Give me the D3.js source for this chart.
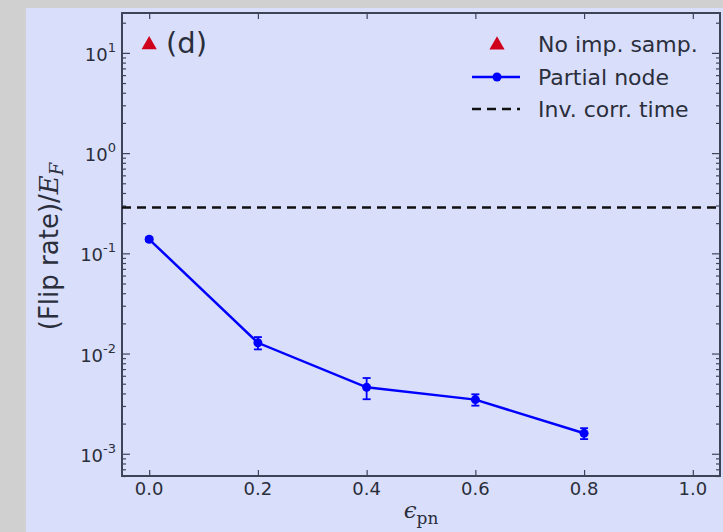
<!DOCTYPE html>
<html><head><meta charset="utf-8">
<script src="https://cdn.jsdelivr.net/npm/d3@7"></script>
<style>
html,body{margin:0;padding:0;background:#cfcfcf;}
svg{display:block;}
</style></head>
<body>
<svg id="chart" width="723" height="532"></svg>
<script>
// ---- data ----
const epsPn = [0.0, 0.2, 0.4, 0.6, 0.8];
const partialNode = [0.138, 0.0128, 0.0046, 0.00347, 0.0016];
const partialNodeErr = [0.006, 0.0018, 0.0011, 0.00045, 0.0002];
const noImpX = [0.0];
const noImpY = [12.3];
const invCorrTime = 0.286;
const xTicks = [0.0, 0.2, 0.4, 0.6, 0.8, 1.0];
const yTickExp = [1, 0, -1, -2, -3];
const legendLabels = ["No imp. samp.", "Partial node", "Inv. corr. time"];

const W = 723, H = 532;
const L = 122, T = 13, R = 720, B = 476;
const svg = d3.select("#chart");

// background
const defs = svg.append("defs");
const f = defs.append("filter").attr("id","noise").attr("x",0).attr("y",0).attr("width","100%").attr("height","100%");
f.append("feTurbulence").attr("type","fractalNoise").attr("baseFrequency",0.9).attr("numOctaves",2).attr("seed",3);
f.append("feColorMatrix").attr("type","matrix").attr("values","0 0 0 0 0.5  0 0 0 0 0.5  0 0 0 0 0.5  0 0 0 0.25 0");
svg.append("rect").attr("width",W).attr("height",H).attr("fill","#d2d2d2");
svg.append("rect").attr("width",W).attr("height",H).attr("filter","url(#noise)").attr("opacity",0.6);
svg.append("rect").attr("x",26).attr("y",8).attr("width",W-26).attr("height",H-8).attr("fill","#d9dffb");

const x = d3.scaleLinear().domain([-0.05, 1.05]).range([L, R]);
const y = d3.scaleLog().domain([6e-4, 25]).range([B, T]);

const axisColor = "#3e4458";
const textColor = "#2b2e3b";
const g = svg.append("g");

// minor / major y ticks (inward, both sides)
const minorVals = [];
for (let e = -4; e <= 1; e++) for (let m = 2; m <= 9; m++) {
  const v = m * Math.pow(10, e);
  if (v >= 6e-4 && v <= 25) minorVals.push(v);
}
const yLeft = d3.axisRight(y).tickValues(minorVals).tickSize(4).tickFormat("");
const yLeftMaj = d3.axisRight(y).tickValues(yTickExp.map(e => Math.pow(10, e))).tickSize(8).tickFormat("");
const yRight = d3.axisLeft(y).tickValues(minorVals).tickSize(4).tickFormat("");
const yRightMaj = d3.axisLeft(y).tickValues(yTickExp.map(e => Math.pow(10, e))).tickSize(8).tickFormat("");
const xBot = d3.axisTop(x).tickValues(xTicks).tickSize(6).tickFormat("");
const xTop = d3.axisBottom(x).tickValues(xTicks).tickSize(6).tickFormat("");

function styleAxis(sel){
  sel.select(".domain").remove();
  sel.selectAll("line").attr("stroke", axisColor).attr("stroke-width", 1.2);
}
g.append("g").attr("transform",`translate(${L},0)`).call(yLeft).call(styleAxis);
g.append("g").attr("transform",`translate(${L},0)`).call(yLeftMaj).call(styleAxis);
g.append("g").attr("transform",`translate(${R},0)`).call(yRight).call(styleAxis);
g.append("g").attr("transform",`translate(${R},0)`).call(yRightMaj).call(styleAxis);
g.append("g").attr("transform",`translate(0,${B})`).call(xBot).call(styleAxis);
g.append("g").attr("transform",`translate(0,${T})`).call(xTop).call(styleAxis);

// frame
g.append("rect").attr("x",L).attr("y",T).attr("width",R-L).attr("height",B-T)
  .attr("fill","none").attr("stroke",axisColor).attr("stroke-width",2);

// y tick labels
const font = "DejaVu Sans, Verdana, sans-serif";
yTickExp.forEach(e => {
  const t = g.append("text").attr("x", L - 6).attr("y", y(Math.pow(10, e)) + 8)
    .attr("text-anchor","end").attr("font-family",font).attr("font-size",18).attr("fill",textColor);
  t.append("tspan").text("10");
  t.append("tspan").attr("font-size",13).attr("dy",-9).text(e < 0 ? "-" + (-e) : String(e));
});
// x tick labels
xTicks.forEach(v => {
  g.append("text").attr("x", x(v)).attr("y", B + 19).attr("text-anchor","middle")
    .attr("font-family",font).attr("font-size",18).attr("fill",textColor).text(v.toFixed(1));
});

// axis labels
const yl = g.append("text").attr("transform",`translate(58,${(T+B)/2 + 2}) rotate(-90)`)
  .attr("text-anchor","middle").attr("font-family",font).attr("font-size",26).attr("fill",textColor);
yl.append("tspan").text("(Flip rate)/");
yl.append("tspan").attr("font-family","DejaVu Serif, serif").attr("font-style","italic").text("E");
yl.append("tspan").attr("font-family","DejaVu Serif, serif").attr("font-style","italic").attr("font-size",18).attr("dy",5).text("F");

const xl = g.append("text").attr("x", 421).attr("y", 518).attr("text-anchor","middle")
  .attr("font-family","DejaVu Serif, serif").attr("font-size",23).attr("fill",textColor);
xl.append("tspan").attr("font-style","italic").text("ϵ");
xl.append("tspan").attr("font-size",17).attr("dy",6).text("pn");

// dashed inv corr time line
g.append("line").attr("x1",L).attr("x2",R).attr("y1",y(invCorrTime)).attr("y2",y(invCorrTime))
  .attr("stroke","#111").attr("stroke-width",2.5).attr("stroke-dasharray","9,6");

// partial node series
const blue = "#0000ff";
const pts = epsPn.map((e,i) => ({x:e, y:partialNode[i], err:partialNodeErr[i]}));
g.append("path").datum(pts).attr("fill","none").attr("stroke",blue).attr("stroke-width",2.5)
  .attr("d", d3.line().x(d => x(d.x)).y(d => y(d.y)));
const eb = g.append("g").attr("stroke",blue).attr("stroke-width",1.8);
pts.forEach(d => {
  const y1 = y(d.y + d.err), y2 = y(d.y - d.err), cx = x(d.x);
  eb.append("line").attr("x1",cx).attr("x2",cx).attr("y1",y1).attr("y2",y2);
  eb.append("line").attr("x1",cx-4).attr("x2",cx+4).attr("y1",y1).attr("y2",y1);
  eb.append("line").attr("x1",cx-4).attr("x2",cx+4).attr("y1",y2).attr("y2",y2);
});
g.selectAll("circle.pn").data(pts).enter().append("circle").attr("class","pn")
  .attr("cx", d => x(d.x)).attr("cy", d => y(d.y)).attr("r",4.5).attr("fill",blue);

// no imp samp triangle
const red = "#d0021b";
const tri = d3.symbol().type(d3.symbolTriangle).size(100);
noImpX.forEach((v,i) => {
  g.append("path").attr("d",tri()).attr("transform",`translate(${x(v)},${y(noImpY[i])+1})`).attr("fill",red);
});
g.append("text").attr("x",166).attr("y",53).attr("font-family",font).attr("font-size",29)
  .attr("fill",textColor).text("(d)");

// legend
const lgX = 497, lgY = [44, 77, 109], lgText = 538;
g.append("path").attr("d",tri()).attr("transform",`translate(${lgX},${lgY[0]+1})`).attr("fill",red);
g.append("line").attr("x1",472).attr("x2",520).attr("y1",lgY[1]).attr("y2",lgY[1])
  .attr("stroke",blue).attr("stroke-width",2.5);
g.append("circle").attr("cx",lgX).attr("cy",lgY[1]).attr("r",4.5).attr("fill",blue);
g.append("line").attr("x1",472).attr("x2",520).attr("y1",lgY[2]).attr("y2",lgY[2])
  .attr("stroke","#111").attr("stroke-width",2.5).attr("stroke-dasharray","9,6");
legendLabels.forEach((s,i) => {
  g.append("text").attr("x",lgText).attr("y",lgY[i]+7.5).attr("font-family",font).attr("font-size",22)
    .attr("fill",textColor).text(s);
});
</script>
</body></html>
